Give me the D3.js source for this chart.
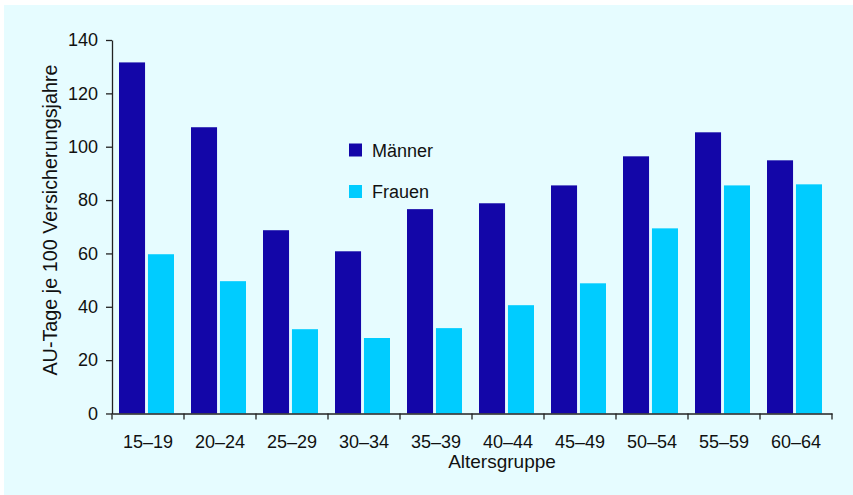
<!DOCTYPE html>
<html>
<head>
<meta charset="utf-8">
<script src="https://cdn.jsdelivr.net/npm/d3@7"></script>
<style>
  html, body { margin: 0; padding: 0; background: #ffffff; }
  svg { display: block; font-family: "Liberation Sans", Arial, sans-serif; }
</style>
</head>
<body>
<svg width="853" height="495"></svg>
<script>
const groups = ["15–19", "20–24", "25–29", "30–34", "35–39", "40–44", "45–49", "50–54", "55–59", "60–64"];
const series = ["Männer", "Frauen"];
const maenner = [131.6, 107.3, 68.7, 60.8, 76.6, 78.8, 85.5, 96.4, 105.4, 94.9];
const frauen = [59.7, 49.6, 31.6, 28.3, 32.0, 40.6, 48.8, 69.4, 85.5, 85.9];
const yTicks = [0, 20, 40, 60, 80, 100, 120, 140];
const colors = ["#1306a8", "#00ccff"];

const svg = d3.select("svg");

// light panel behind everything
svg.append("rect")
    .attr("x", 4).attr("y", 5)
    .attr("width", 849).attr("height", 490)
    .attr("fill", "#e6fcff");

const x0 = d3.scaleBand().domain(groups).range([112, 832]);
const x1 = d3.scaleBand().domain(series).range([7, 62]).paddingInner(0.1);
const y = d3.scaleLinear().domain([0, 140]).range([413.5, 40]);

const data = groups.map((g, i) => ({ group: g, values: [maenner[i], frauen[i]] }));

svg.append("g")
    .selectAll("g")
    .data(data)
    .enter().append("g")
    .attr("transform", d => `translate(${x0(d.group)},0)`)
    .selectAll("rect")
    .data(d => d.values.map((v, j) => ({ key: series[j], value: v, color: colors[j] })))
    .enter().append("rect")
    .attr("x", d => x1(d.key))
    .attr("width", x1.bandwidth())
    .attr("y", d => y(d.value))
    .attr("height", d => y(0) - y(d.value))
    .attr("fill", d => d.color);

const yAxis = svg.append("g")
    .attr("transform", "translate(112,0)")
    .call(d3.axisLeft(y).tickValues(yTicks).tickSize(6).tickPadding(8).tickSizeOuter(0));

const xAxis = svg.append("g")
    .attr("transform", `translate(0,${y(0)})`)
    .call(d3.axisBottom(x0).tickSize(0).tickPadding(22).tickSizeOuter(0));

// tick marks on the band edges of the x axis
xAxis.append("g")
    .selectAll("line")
    .data(groups.concat(["end"]))
    .enter().append("line")
    .attr("x1", (d, i) => i < groups.length ? x0(d) : x0.range()[1])
    .attr("x2", (d, i) => i < groups.length ? x0(d) : x0.range()[1])
    .attr("y1", 0).attr("y2", 6)
    .attr("stroke", "#222");

[yAxis, xAxis].forEach(a => {
    a.selectAll("path, line").attr("stroke", "#222").attr("stroke-width", 1.3);
    a.selectAll("text").attr("font-size", 18).attr("fill", "#111")
        .attr("font-family", "'Liberation Sans', Arial, sans-serif");
});

svg.append("text")
    .attr("transform", "translate(57,220) rotate(-90)")
    .attr("text-anchor", "middle")
    .attr("font-size", 19.8)
    .attr("fill", "#111")
    .text("AU-Tage je 100 Versicherungsjahre");

svg.append("text")
    .attr("x", 502).attr("y", 468)
    .attr("text-anchor", "middle")
    .attr("font-size", 19)
    .attr("fill", "#111")
    .text("Altersgruppe");

const legend = svg.append("g")
    .selectAll("g")
    .data(series)
    .enter().append("g")
    .attr("transform", (d, i) => `translate(349,${143.5 + i * 41.5})`);

legend.append("rect")
    .attr("width", 13).attr("height", 13)
    .attr("fill", (d, i) => colors[i]);

legend.append("text")
    .attr("x", 23).attr("y", 13)
    .attr("font-size", 18)
    .attr("fill", "#111")
    .text(d => d);
</script>
</body>
</html>
